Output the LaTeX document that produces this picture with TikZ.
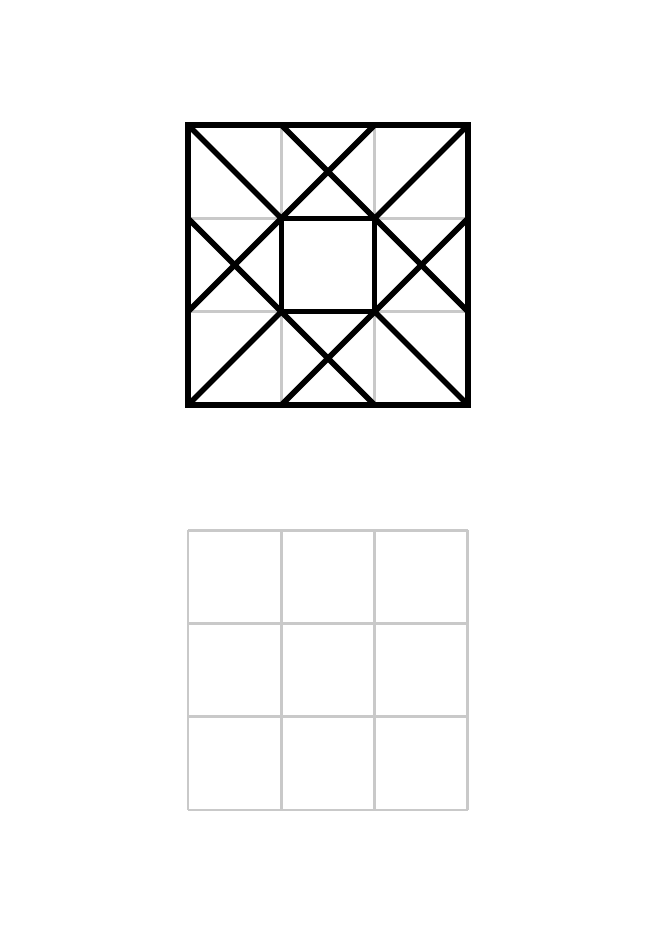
\documentclass[tikz,border=0pt]{standalone}
\begin{document}
\begin{tikzpicture}[x=0.9333cm, y=0.9333cm]
\tikzset{guide/.style={draw=black!21, line width=0.85pt, step=0.9333cm}, figline/.style={draw=black, line width=1.6pt}}
\useasboundingbox (0,0) rectangle (6.56cm,9.27cm);
% empty grid below
\begin{scope}[shift={(1.88cm,1.17cm)}]
\draw [guide] (0,0) grid (3,3);
\end{scope}
% pattern above
\begin{scope}[shift={(1.88cm,5.22cm)}]
\draw [guide] (0,0) grid (3,3);
\draw [figline] (0,0) rectangle (3,3);
\draw [figline] (1,1) rectangle (2,2);
\draw [figline] (0,3)--(1,2) (3,3)--(2,2) (0,0)--(1,1) (3,0)--(2,1);
\draw [figline] (0,1)--(2,3) (1,3)--(3,1);
\draw [figline] (0,2)--(2,0) (1,0)--(3,2);
\end{scope}
\end{tikzpicture}
\end{document}
